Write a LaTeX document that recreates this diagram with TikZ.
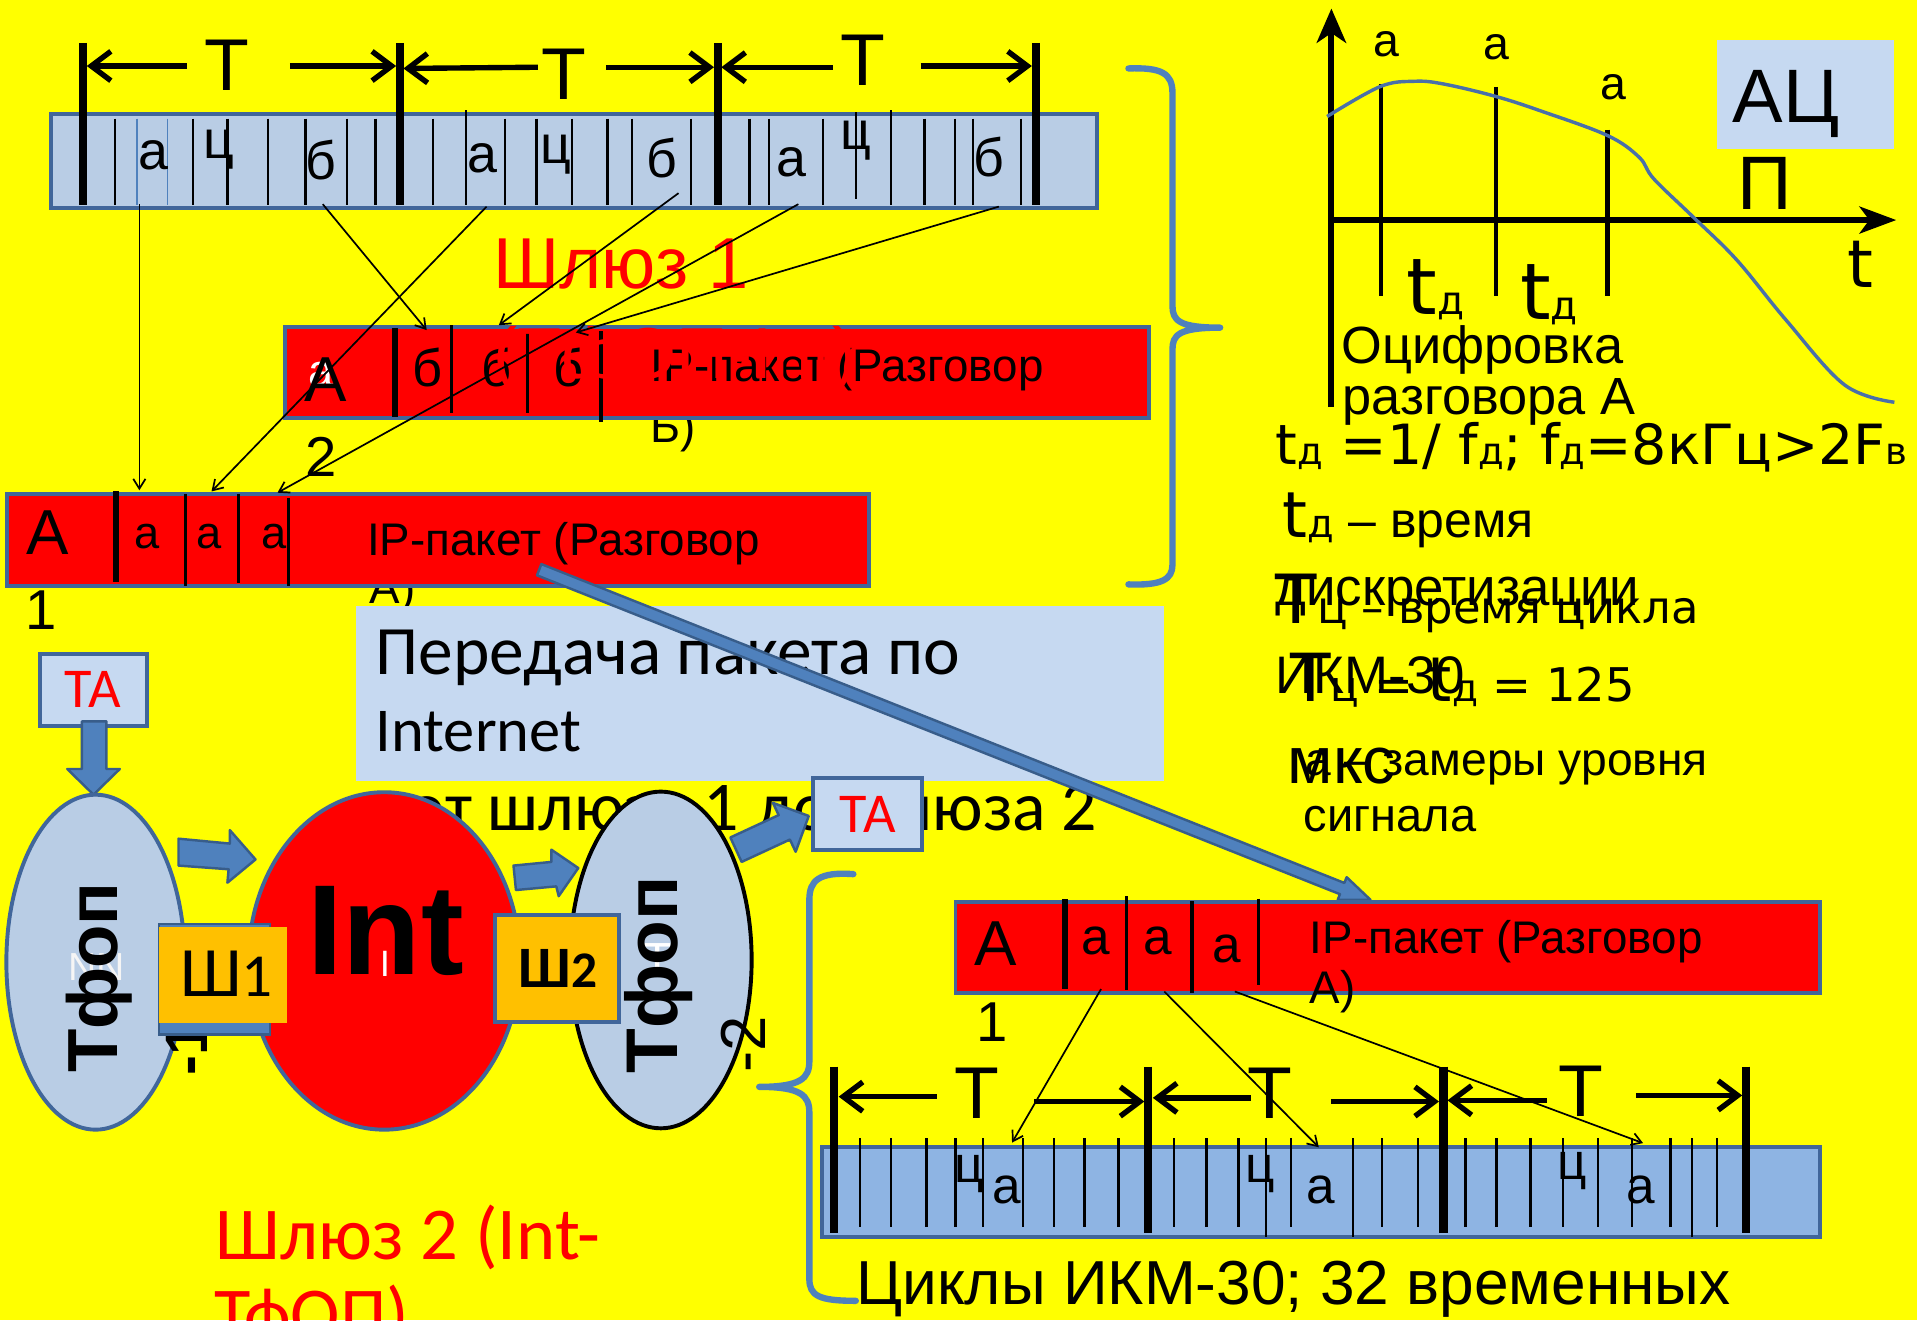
\documentclass[tikz,border=0pt]{standalone}
\usepackage{fontspec}
\setmainfont{Liberation Sans}
\newfontfamily\dvf{DejaVu Sans}
\newfontfamily\cbf{Carlito}
\usetikzlibrary{arrows.meta,shapes.geometric}
\newdimen\ux \ux=0.5pt
\newcommand\fitw[2]{\resizebox{#1\ux}{!}{#2}}
\newcommand\fs[1]{\fontsize{#1}{#1}\selectfont}
\newcommand\sbs[1]{\scalebox{0.67}{#1}}
\definecolor{ylw}{HTML}{FFFF00}
\definecolor{lbl}{HTML}{B9CDE5}
\definecolor{boxb}{HTML}{C6D9F1}
\definecolor{midb}{HTML}{8EB4E3}
\definecolor{bord}{HTML}{41669A}
\definecolor{arrb}{HTML}{4F81BD}
\definecolor{arrd}{HTML}{385D8A}
\definecolor{org}{HTML}{FFC000}
\definecolor{curvc}{HTML}{4A70A8}
\begin{document}
\begin{tikzpicture}[x=0.5pt,y=-0.5pt,
 lab/.style={inner sep=0pt, anchor=base},
 lw/.style={inner sep=0pt, anchor=base west},
 barbox/.style={draw=bord, line width=1.6pt, inner sep=0pt},
 thk/.style={line width=3.3pt},
 thn/.style={line width=1pt},
 tarr/.style={line width=2.2pt, -{Straight Barb[length=8pt,width=12pt]}},
 lnk/.style={line width=0.7pt, -{Straight Barb[length=4pt,width=5pt]}},
 brc/.style={draw=arrb, line width=2.6pt, line cap=round, line join=round},
 blk/.style={fill=arrb, draw=arrd, line width=1pt, line join=round}]
\clip (0,0) rectangle (1568,1080);
\fill[ylw] (0,0) rectangle (1568,1080);

% ---------- gateway 1 title
\node[lw, text=red] (gw1) at (403,236) {\fs{29.5}Шлюз 1};

% ---------- top PCM bar
\node[barbox, fill=lbl, minimum width=855\ux, minimum height=77\ux] (topbar) at (469.5,132) {};
\foreach \x in {94,158,186,219,250,284,307,354,413,439,468,497,517,565,613,629,673,756,781,796,835}
  \draw[thn] (\x,97) -- (\x,168);
\foreach \x in {381,729} \draw[thn] (\x,90) -- (\x,168);
\draw[thn] (700,92) -- (700,163);
\foreach \x in {112,137} \draw[arrb, line width=0.7pt] (\x,97) -- (\x,168);
\foreach \x in {68,327,587,847} \draw[thk] (\x,35) -- (\x,168);
\node[lab, font=\fs{22}] (ba1) at (125.5,139) {а};
\node[lab, font=\fs{22}] (bc1) at (179,130) {ц};
\node[lab, font=\fs{22}] (bb1) at (262.5,147) {б};
\node[lab, font=\fs{22}] (ba2) at (394.5,141) {а};
\node[lab, font=\fs{22}] (bc2) at (454.5,134) {ц};
\node[lab, font=\fs{22}] (bb2) at (541.5,145.5) {б};
\node[lab, font=\fs{22}] (ba3) at (647,144) {а};
\node[lab, font=\fs{22}] (bc3) at (700,122) {ц};
\node[lab, font=\fs{22}] (bb3) at (808.5,144) {б};
\node[lab, font=\fs{30}] (T1) at (186,74) {T};
\node[lab, font=\fs{30}] (T2) at (461.5,81) {T};
\node[lab, font=\fs{30}] (T3) at (706,70) {T};
\draw[tarr] (153,54) -- (71,54);
\draw[tarr] (237,54) -- (324,54);
\draw[tarr] (440,55) -- (330,56);
\draw[tarr] (496,55) -- (584,55);
\draw[tarr] (681,55) -- (590,55);
\draw[tarr] (753,54) -- (844,54);

% ---------- second lines behind packets
\node[lw, font=\fs{18.7}] (pb2) at (532,362) {Б)};
\node[lw, font=\fs{18.7}] (pa2) at (302,494) {А)};

% ---------- packet B
\node[barbox, fill=red, minimum width=706.6\ux, minimum height=75\ux] (pktB) at (586.7,304.7) {};
\draw[line width=2.2pt] (323.2,268.5) -- (323.2,340.8);
\draw[line width=1.3pt] (369.5,266) -- (369.5,338);
\draw[line width=1.3pt] (431.5,271) -- (431.5,338);
\draw[line width=1.3pt] (491.6,271) -- (491.6,345);
\node[lab, text=white, font=\fs{18.5}] (pBw) at (263,316) {а};
\node[lab, font=\fs{26}] (pBA) at (266,328.6) {A};
\node[lab, font=\fs{21.5}] (pBb1) at (349.4,316) {б};
\node[lab, font=\fs{21.5}] (pBb2) at (406.5,316) {б};
\node[lab, font=\fs{21.5}] (pBb3) at (464.7,316) {б};
\node[lw, font=\fs{18.7}] (pBt) at (532,312) {IP-пакет (Разговор};
\node[lab, font=\fs{23}] (n2) at (262.5,390) {2};
\node[lw, text=red] (gw1b) at (403,310) {\fs{29.5}(ТфОП-Int)};

% ---------- packet A
\node[barbox, fill=red, minimum width=705\ux, minimum height=75\ux] (pktA) at (358.5,441.5) {};
\draw[line width=2.2pt] (95,402) -- (95,476);
\draw[line width=1.3pt] (152,404) -- (152,479);
\draw[line width=1.3pt] (195,404) -- (195,477);
\draw[line width=1.3pt] (236,407) -- (236,479);
\node[lab, font=\fs{26}] (pAA) at (39,453.8) {A};
\node[lab, font=\fs{18.5}] (pAa1) at (120,449) {а};
\node[lab, font=\fs{18.5}] (pAa2) at (171,449) {а};
\node[lab, font=\fs{18.5}] (pAa3) at (224,449) {а};
\node[lw, font=\fs{18.7}] (pAt) at (300,454) {IP-пакет (Разговор};
\node[lab, font=\fs{23}] (n1) at (33.5,515) {1};

% ---------- links from PCM bar to packets
\coordinate (u1) at (114,167);  \coordinate (v1) at (114,401);
\coordinate (u2) at (264,167);  \coordinate (v2) at (349,270);
\coordinate (u3) at (398,169);  \coordinate (v3) at (173,402);
\coordinate (u4) at (555,158);  \coordinate (v4) at (408,266);
\coordinate (u5) at (653,167);  \coordinate (v5) at (227,403);
\coordinate (u6) at (817,169);  \coordinate (v6) at (471,272);
\foreach \i in {1,...,6} \draw[lnk] (u\i) -- (v\i);

% ---------- right brace
\draw[brc] (923,56) .. controls (950,55) and (959,60) .. (959,76) -- (959,250)
  .. controls (959,262) and (964,268) .. (998,268)
  .. controls (964,268) and (959,274) .. (959,286) -- (959,462)
  .. controls (959,474) and (950,479) .. (923,478);

% ---------- text behind the cluster
\node[lw] (route) at (334,679) {\fitw{563}{\cbf от шлюза 1 до шлюза 2}};

% ---------- internet box
\node[fill=boxb, inner sep=0pt, minimum width=661\ux, minimum height=143\ux] (inet) at (621.5,567) {};
\node[lw] (inet1) at (307,552) {\fitw{478}{\cbf Передача пакета по}};
\node[lw] (inet2) at (307,615) {\fitw{168}{\cbf Internet}};

% ---------- big transfer arrow
\filldraw[blk] (442.8,461.4) -- (1099.6,722.2) -- (1101.5,717.5) -- (1121,736)
  -- (1094.1,736.1) -- (1096,731.4) -- (439.2,470.6) -- cycle;

% ---------- graph
\draw[line width=2.4pt, -{Stealth[length=14pt,width=12pt,inset=4pt]}] (1089,333) -- (1089,7);
\draw[line width=2.4pt, -{Stealth[length=15pt,width=11pt,inset=4pt]}] (1089,180) -- (1551,180);
\draw[line width=1.7pt] (1129.6,69) -- (1129.6,242);
\draw[line width=1.7pt] (1223.6,71) -- (1223.6,242);
\draw[line width=1.7pt] (1314.8,106) -- (1314.8,242);
\draw[curvc, line width=1.4pt] plot[smooth, tension=0.6] coordinates {(1085.5,95.3) (1128.7,70.9) (1156.7,66.5) (1180.7,68.7) (1223.5,78.9) (1260.7,90.9) (1314.7,110.8) (1340.7,128.6) (1352.7,146.3) (1384.7,177.3) (1420.7,212.8) (1460.7,261.6) (1508.7,314.8) (1549.5,329)};
\node[lab, font=\fs{19}] (ga1) at (1133.6,46.5) {а};
\node[lab, font=\fs{19}] (ga2) at (1223.6,48.8) {а};
\node[lab, font=\fs{19}] (ga3) at (1319.3,81) {а};
\node[lab, font=\dvf\fs{27}] (gt) at (1522,235) {t};
\node[lw] (gtd1) at (1150,257) {\dvf\fs{32}t\fs{16}д};
\node[lw] (gtd2) at (1243,261) {\dvf\fs{32}t\fs{16}д};
\node[fill=boxb, inner sep=0pt, minimum width=145\ux, minimum height=89\ux] (adc) at (1476.5,77.5) {};
\node[lw, font=\fs{31}] (adc1) at (1417,100) {АЦ};
\node[lw, font=\fs{31}] (adc2) at (1421,171) {П};

% ---------- right column texts
\node[lw, font=\fs{21.4}] (r1) at (1097,297) {Оцифровка};
\node[lw, font=\fs{21.4}] (r2) at (1098,339) {разговора А};
\node[lw] (r3) at (1043,380) {\fitw{517}{\dvf t\sbs{д} =1/ f\sbs{д}; f\sbs{д}=8кГц>2F\sbs{в}}};
\node[lw] (r4) at (1049,440) {\fitw{205}{{\dvf\fs{28}t\fs{17}д}{\fs{22} – время}}};
\node[lw, font=\fs{21.6}] (r5) at (1043,495) {дискретизации};
\node[lw] (r6) at (1043,510) {\fitw{346}{\dvf{\fs{28}T}{\fs{18.5}ц – время цикла}}};
\node[lw, font=\fs{21.6}] (r7) at (1043,567) {ИКМ-30};
\node[lw] (r8) at (1055,574) {\fitw{282}{\dvf{\fs{30}T}{\fs{19}ц}{\fs{21} = }{\fs{28}t}{\fs{17}д}{\fs{21} = 125}}};
\node[lw, font=\fs{27}] (r9) at (1053,641) {мкс};
\node[lw] (r10) at (1067.6,634) {\fitw{329}{а – замеры уровня}};
\node[lw] (r11) at (1066,680) {\fitw{141}{сигнала}};

% ---------- left cluster
\node[barbox, fill=boxb, minimum width=87.7\ux, minimum height=59\ux] (ta1) at (76.2,564.5) {};
\node[lab, text=red, font=\cbf\fs{23}] (ta1t) at (76.2,578.6) {ТА};
\filldraw[blk] (67,590) -- (87,590) -- (87,629) -- (98,629) -- (76.5,650) -- (55,629) -- (67,629) -- cycle;

\node[ellipse, draw=bord, line width=1.6pt, fill=lbl, minimum width=146\ux, minimum height=274\ux, inner sep=0pt] (tf1) at (78.2,787) {};
\node[lab, text=white!92!gray, font=\fs{16}] (nn) at (79,801.6) {NN};
\node[inner sep=0pt, rotate=90] (tf1t) at (80.75,799.6) {\fitw{156}{\bfseries Тфоп}};
\node[inner sep=0pt, rotate=90, font=\bfseries\fs{24.5}] (m1) at (152.5,858) {-1};

\node[ellipse, draw=bord, line width=1.6pt, fill=red, minimum width=222\ux, minimum height=276\ux, inner sep=0pt] (int) at (314.3,786) {};
\node[lw] (intt) at (251,797) {\fitw{128}{\bfseries Int}};
\node[lab, text=white, font=\fs{15}] (intI) at (314.8,798.6) {I};

\node[fill=arrb, draw=arrd, line width=1pt, inner sep=0pt, minimum width=91\ux, minimum height=90\ux] (sh1b) at (175.5,801) {};
\node[fill=org, inner sep=0pt, minimum width=104\ux, minimum height=79\ux] (sh1) at (182.4,797.5) {};
\node[lw] (sh1t) at (147,815) {\cbf\fs{29}Ш\fs{25}1};

\node[ellipse, draw=black, line width=1.6pt, fill=lbl, minimum width=148.6\ux, minimum height=275.4\ux, inner sep=0pt] (tf2) at (540.5,785.2) {};
\node[lab, text=white, font=\fs{19}] (tf2w) at (538,798) {Т};
\node[inner sep=0pt, rotate=90] (tf2t) at (538.4,797.5) {\fitw{161}{\bfseries Тфоп}};
\node[inner sep=0pt, rotate=90, font=\fs{26}] (m2) at (608,854) {-2};

\node[barbox, fill=org, minimum width=101.5\ux, minimum height=87.3\ux] (sh2) at (455.75,792) {};
\node[lw] (sh2t) at (424,808) {\cbf\bfseries\fs{24}Ш\fs{21}2};

\filldraw[blk] (146,686) -- (188,690) -- (188,679) -- (209,703) -- (186,722) -- (187,711) -- (146,708) -- cycle;
\filldraw[blk] (420,708) -- (451,705) -- (451,695) -- (473,710) -- (457,733) -- (455,725) -- (422,728) -- cycle;
\filldraw[blk] (597.4,685) -- (636.9,666.7) -- (632.2,656.7) -- (661.5,667.4) -- (650.8,696.7) -- (646.1,686.7) -- (606.6,705) -- cycle;

\node[barbox, fill=boxb, minimum width=89\ux, minimum height=59\ux] (ta2) at (709.5,665.5) {};
\node[lab, text=red, font=\cbf\fs{23}] (ta2t) at (709.5,681) {ТА};

\node[lw, text=red, font=\cbf\fs{30.5}] (gw2a) at (176,1030) {Шлюз 2 (Int-};
\node[lw, text=red, font=\cbf\fs{30.5}] (gw2b) at (175,1096) {ТфОП)};

% ---------- bottom brace
\draw[brc] (698,715) .. controls (670,713) and (662,720) .. (662,736) -- (662,868)
  .. controls (662,882) and (655,889) .. (621,889)
  .. controls (655,889) and (662,896) .. (662,910) -- (662,1046)
  .. controls (662,1060) and (670,1064) .. (700,1064);

% ---------- bottom packet
\node[barbox, fill=red, minimum width=707.5\ux, minimum height=74.5\ux] (pktC) at (1135.25,774.75) {};
\draw[line width=2.2pt] (871,735.5) -- (871,809);
\draw[line width=1.3pt] (921.5,733) -- (921.5,810);
\draw[line width=1.3pt] (975,737) -- (975,812);
\draw[line width=1.3pt] (1029.5,735) -- (1029.5,806);
\node[lab, font=\fs{26}] (pCA) at (814.75,790) {A};
\node[lab, font=\fs{21}] (pCa1) at (896,781) {а};
\node[lab, font=\fs{21}] (pCa2) at (947,781) {а};
\node[lab, font=\fs{21}] (pCa3) at (1003.6,787) {а};
\node[lw, font=\fs{18.7}] (pCt) at (1071,780) {IP-пакет (Разговор};
\node[lw, font=\fs{18.7}] (pCt2) at (1071,821) {А)};
\node[lab, font=\fs{23}] (n1b) at (811.5,852) {1};

% ---------- bottom PCM bar
\node[barbox, fill=midb, minimum width=817\ux, minimum height=74\ux] (botbar) at (1080.5,975) {};
\foreach \x in {703.2,728.7,757.8,781.5,804.1,836.7,862.1,887.1,914.9,960.1,986.7,1012.9,1056.1,1130.3,1160,1198.5,1224,1251.9,1278.6,1307,1334.8,1366.3,1404.2}
  \draw[thn] (\x,931) -- (\x,1004);
\foreach \x in {1035.4,1106.5,1384.1} \draw[thn] (\x,931) -- (\x,1012);
\foreach \x in {682.5,939.3,1180.7,1428} \draw[thk] (\x,872.5) -- (\x,1008.5);
\node[lab, font=\fs{21}] (qc1) at (792.8,967) {ц};
\node[lab, font=\fs{21}] (qa1) at (823.4,984) {а};
\node[lab, font=\fs{21}] (qc2) at (1031,967) {ц};
\node[lab, font=\fs{21}] (qa2) at (1080,984) {а};
\node[lab, font=\fs{21}] (qc3) at (1286,965) {ц};
\node[lab, font=\fs{21}] (qa3) at (1342.4,984) {а};
\node[lab, font=\fs{30}] (T4) at (799,914.7) {T};
\node[lab, font=\fs{30}] (T5) at (1039,914.7) {T};
\node[lab, font=\fs{30}] (T6) at (1293,913) {T};
\draw[tarr] (766,897) -- (686,897);
\draw[tarr] (846,901) -- (936,901);
\draw[tarr] (1023,898) -- (943,898);
\draw[tarr] (1089,901) -- (1177,901);
\draw[tarr] (1265,900) -- (1184,900);
\draw[tarr] (1338,896) -- (1425,896);

\coordinate (w1) at (900.6,809);  \coordinate (z1) at (827.8,934.6);
\coordinate (w2) at (952.3,811);  \coordinate (z2) at (1078.7,938.4);
\coordinate (w3) at (1010,811);   \coordinate (z3) at (1343.9,935);
\foreach \i in {1,2,3} \draw[lnk] (w\i) -- (z\i);

\node[lw] (cyc) at (700,1067) {\fitw{715}{Циклы ИКМ-30; 32 временных}};
\end{tikzpicture}
\end{document}
